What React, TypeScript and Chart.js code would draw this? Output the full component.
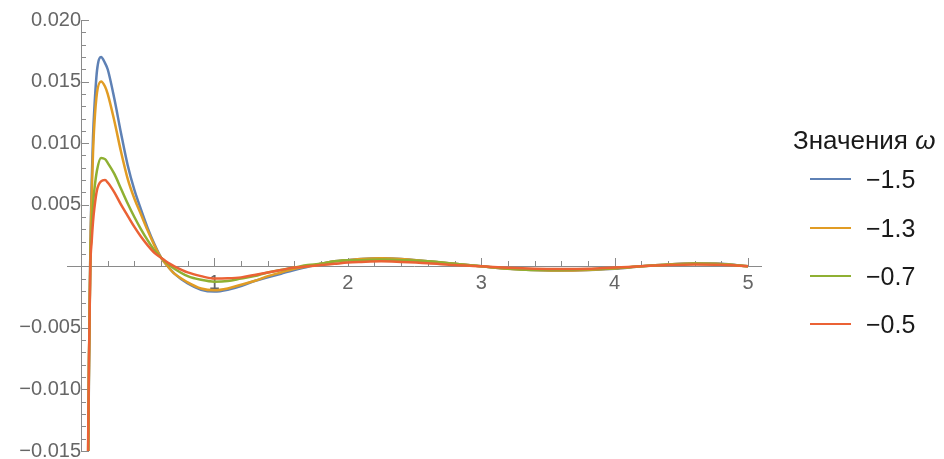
import React, { useEffect, useRef } from 'react';
import { Chart, registerables } from 'chart.js';

Chart.register(...registerables);

// ---- data ----
const xValues = [
  0.03, 0.04, 0.05, 0.06, 0.07, 0.08, 0.09, 0.1, 0.12, 0.15, 0.18, 0.2,
  0.25, 0.3, 0.35, 0.4, 0.45, 0.5, 0.55, 0.6, 0.65, 0.7, 0.8, 0.9, 1.0, 1.1,
  1.2, 1.3, 1.4, 1.5, 1.6, 1.7, 1.8, 1.9, 2.0, 2.1, 2.25, 2.4, 2.6, 2.8, 3.0,
  3.2, 3.4, 3.6, 3.8, 4.0, 4.2, 4.4, 4.6, 4.8, 5.0,
];

const seriesLabels = ['\u22121.5', '\u22121.3', '\u22120.7', '\u22120.5'];
const seriesColors = ['#5E81B5', '#E19C24', '#8FB032', '#EB6235'];

const omegaM15 = [
  -0.06, -0.04, -0.022, -0.008, 0.0015, 0.0068, 0.0105, 0.0128, 0.0159, 0.017, 0.0165, 0.016,
  0.0136, 0.0108, 0.0082, 0.0062, 0.0046, 0.0031, 0.0018, 0.0007, 0.0, -0.0006, -0.0014, -0.0019, -0.00205, -0.0019,
  -0.0016, -0.0012, -0.0009, -0.0006, -0.0003, -0.00005, 0.0002, 0.0004, 0.0005, 0.0006, 0.00065, 0.0006, 0.0004, 0.0002, 0.0,
  -0.0002, -0.0003, -0.00035, -0.0003, -0.0002, 0.0, 0.00015, 0.00024, 0.0002, 0.0,
];
const omegaM13 = [
  -0.058, -0.038, -0.021, -0.0078, 0.0013, 0.0058, 0.0092, 0.0115, 0.0141, 0.015, 0.0146, 0.014,
  0.0118, 0.0093, 0.0071, 0.0055, 0.0042, 0.0029, 0.0017, 0.0007, 0.0, -0.0006, -0.0013, -0.0018, -0.00195, -0.0018,
  -0.0015, -0.0012, -0.0008, -0.0005, -0.0002, 0.0, 0.0002, 0.0004, 0.0005, 0.0006, 0.00065, 0.0006, 0.0004, 0.0002, 0.0,
  -0.0002, -0.0003, -0.00035, -0.0003, -0.00018, 0.0, 0.00015, 0.00022, 0.00018, 0.0,
];
const omegaM07 = [
  -0.055, -0.035, -0.019, -0.0075, 0.0005, 0.003, 0.005, 0.0062, 0.0078, 0.0088, 0.0087, 0.0084,
  0.0075, 0.0063, 0.0051, 0.004, 0.003, 0.0021, 0.0013, 0.0007, 0.0002, -0.0002, -0.0008, -0.0011, -0.00125, -0.0012,
  -0.001, -0.0008, -0.0005, -0.0003, -0.0001, 0.0001, 0.0002, 0.0004, 0.0005, 0.0005, 0.00055, 0.0005, 0.0004, 0.0002, 0.0,
  -0.00018, -0.0003, -0.0003, -0.00025, -0.00015, 0.0, 0.00012, 0.0002, 0.00016, 0.0,
];
const omegaM05 = [
  -0.054, -0.034, -0.018, -0.0072, 0.0, 0.002, 0.0036, 0.0047, 0.0062, 0.0069, 0.007, 0.0068,
  0.006, 0.005, 0.0041, 0.0032, 0.0024, 0.0017, 0.0011, 0.0007, 0.0003, 0.0, -0.0005, -0.0008, -0.001, -0.00098,
  -0.0009, -0.0007, -0.0005, -0.0003, -0.0001, 0.0, 0.0001, 0.0002, 0.0003, 0.00035, 0.0004, 0.00035, 0.00025, 0.0001, 0.0,
  -0.00012, -0.0002, -0.00022, -0.0002, -0.0001, 0.0, 0.0001, 0.00015, 0.00012, 0.0,
];
const seriesValues = [omegaM15, omegaM13, omegaM07, omegaM05];

const xMajorTicks = [1, 2, 3, 4, 5];
const yMajorTicks = [-0.015, -0.01, -0.005, 0.005, 0.01, 0.015, 0.02];
const xMinorStep = 0.2;
const yMinorStep = 0.001;

const legendTitle = 'Значения';
const legendSymbol = 'ω';

const FONT = '"Liberation Sans", Arial, sans-serif';

function fmtY(v: number): string {
  const s = Math.abs(v).toFixed(3);
  return v < 0 ? '\u2212' + s : s;
}

const axesPlugin = {
  id: 'mmaAxes',
  beforeDatasetsDraw(chart: any) {
    const { ctx, scales } = chart;
    const xs = scales.x;
    const ys = scales.y;
    const x0 = Math.round(xs.getPixelForValue(0));
    const y0 = Math.round(ys.getPixelForValue(0));
    ctx.save();
    ctx.strokeStyle = '#8a8a8a';
    ctx.lineWidth = 1;
    ctx.beginPath();
    ctx.moveTo(xs.left, y0 + 0.5);
    ctx.lineTo(xs.right, y0 + 0.5);
    ctx.moveTo(x0 + 0.5, ys.top);
    ctx.lineTo(x0 + 0.5, ys.bottom);
    for (let i = 1; i * xMinorStep <= 5.0001; i++) {
      const v = i * xMinorStep;
      const major = Math.abs(v - Math.round(v)) < 1e-6;
      const px = Math.round(xs.getPixelForValue(v)) + 0.5;
      ctx.moveTo(px, y0);
      ctx.lineTo(px, y0 - (major ? 8 : 5));
    }
    for (let i = -15; i <= 20; i++) {
      if (i === 0) continue;
      const v = i * yMinorStep;
      const major = i % 5 === 0;
      const py = Math.round(ys.getPixelForValue(v)) + 0.5;
      ctx.moveTo(x0, py);
      ctx.lineTo(x0 + (major ? 8 : 5), py);
    }
    ctx.stroke();
    ctx.restore();
  },
};

const zeroPad = (scale: any) => {
  scale.paddingTop = 0;
  scale.paddingBottom = 0;
  scale.paddingLeft = 0;
  scale.paddingRight = 0;
};

export default function App() {
  const canvasRef = useRef<HTMLCanvasElement | null>(null);

  useEffect(() => {
    document.body.style.margin = '0';
    const canvas = canvasRef.current;
    if (!canvas) return;
    const chart = new Chart(canvas, {
      type: 'line',
      data: {
        datasets: seriesValues.map((vals, i) => ({
          label: seriesLabels[i],
          data: vals.map((y, j) => ({ x: xValues[j], y })),
          borderColor: seriesColors[i],
          backgroundColor: seriesColors[i],
          borderWidth: 2.5,
          pointRadius: 0,
          fill: false,
          cubicInterpolationMode: 'monotone' as const,
          order: 4 - i,
        })),
      },
      options: {
        animation: false,
        responsive: true,
        maintainAspectRatio: false,
        layout: { padding: { left: 67, right: 182, top: 20, bottom: 8 } },
        plugins: {
          legend: { display: false },
          tooltip: { enabled: false },
        },
        scales: {
          x: {
            type: 'linear',
            position: { y: 0 } as any,
            min: -0.105,
            max: 5.105,
            grid: { display: false, drawTicks: false },
            border: { display: false },
            afterFit: zeroPad,
            afterBuildTicks: (scale: any) => {
              scale.ticks = xMajorTicks.map((v) => ({ value: v }));
            },
            ticks: {
              autoSkip: false,
              maxRotation: 0,
              padding: 5,
              color: '#666666',
              font: { family: FONT, size: 20 },
              callback: (v: any) => String(v),
            },
          },
          y: {
            type: 'linear',
            position: { x: 0 } as any,
            min: -0.015,
            max: 0.02,
            grid: { display: false, drawTicks: false },
            border: { display: false },
            afterFit: zeroPad,
            afterBuildTicks: (scale: any) => {
              scale.ticks = yMajorTicks.map((v) => ({ value: v }));
            },
            ticks: {
              autoSkip: false,
              padding: 9,
              color: '#666666',
              font: { family: FONT, size: 20 },
              callback: (v: any) => fmtY(Number(v)),
            },
          },
        },
      },
      plugins: [axesPlugin],
    });
    return () => chart.destroy();
  }, []);

  const rowYs = [179, 228, 276, 324];

  return (
    <div style={{ position: 'relative', width: 944, height: 459, background: '#fff', overflow: 'hidden' }}>
      <canvas ref={canvasRef} style={{ position: 'absolute', left: 0, top: 0, width: 944, height: 459 }} />
      <div
        style={{
          position: 'absolute',
          left: 793,
          top: 140 - 15,
          height: 30,
          lineHeight: '30px',
          fontFamily: FONT,
          fontSize: 26,
          color: '#1a1a1a',
          whiteSpace: 'nowrap',
        }}
      >
        {legendTitle} <i>{legendSymbol}</i>
      </div>
      {seriesLabels.map((lab, i) => (
        <div key={lab}>
          <div
            style={{
              position: 'absolute',
              left: 810,
              top: rowYs[i] - 1,
              width: 41,
              height: 2,
              background: seriesColors[i],
            }}
          />
          <div
            style={{
              position: 'absolute',
              left: 866,
              top: rowYs[i] - 15,
              height: 30,
              lineHeight: '30px',
              fontFamily: FONT,
              fontSize: 25,
              color: '#1a1a1a',
              whiteSpace: 'nowrap',
            }}
          >
            {lab}
          </div>
        </div>
      ))}
    </div>
  );
}
